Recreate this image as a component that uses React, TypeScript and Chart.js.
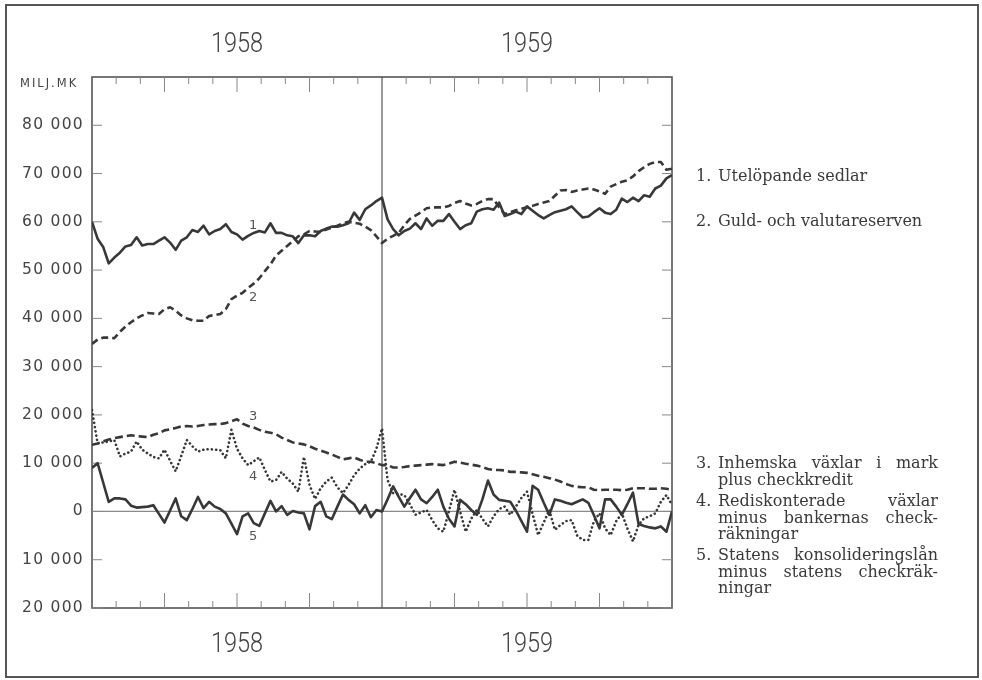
import React, { useEffect, useRef } from 'react';
import { Chart, registerables } from 'chart.js';

Chart.register(...registerables);

// ---- data (weekly, milj. mk) ----
const years = ['1958', '1959'];
const WEEKS_TOTAL = 104;
const WEEK_OF_YEAR_BREAK = 52;
const weekIndex = Array.from({ length: WEEKS_TOTAL + 1 }, (_, i) => i);

const sedlar1958 = [
  60000, 56500, 54800, 51400, 52600, 53600, 54900, 55200, 56800, 55100,
  55400, 55400, 56100, 56800, 55700, 54200, 56100, 56800, 58300, 57900,
  59200, 57400, 58100, 58500, 59500, 57900, 57400, 56300, 57100, 57700,
  58100, 57800, 59700, 57700, 57700, 57200, 57000, 55600, 57200, 57200,
  57000, 58100, 58600, 59000, 59000, 59300, 59700, 61900, 60400, 62600,
  63400, 64300, 65000,
];
const sedlar1959 = [
  60500, 58500, 57200, 58100, 58600, 59700, 58500, 60700, 59200, 60200,
  60200, 61600, 60000, 58500, 59300, 59700, 62100, 62600, 62800, 62500,
  64000, 61200, 61600, 62100, 61600, 63200, 62300, 61400, 60700, 61400,
  62000, 62300, 62600, 63200, 62000, 60900, 61100, 62000, 62800, 61900,
  61600, 62500, 64800, 64100, 65000, 64300, 65500, 65200, 66900, 67500,
  69000, 69700,
];
const guld1958 = [
  34700, 35600, 36000, 36000, 35900, 37200, 38300, 39200, 40000, 40600,
  41100, 41000, 40900, 41900, 42300, 41600, 40600, 40000, 39600, 39500,
  39500, 40500, 40700, 40900, 41900, 44000, 44700, 45300, 46300, 47200,
  48300, 49800, 51200, 53000, 54000, 55000, 56000, 57000, 57400, 58100,
  58000, 57900, 58400, 58800, 59200, 59700, 60000, 59800, 59600, 59000,
  58300, 57000, 55600,
];
const guld1959 = [
  56500, 57100, 57700, 59300, 60600, 61300, 62000, 62800, 63000, 63000,
  63000, 63300, 63900, 64300, 63800, 63400, 63700, 64300, 64700, 64700,
  63000, 61600, 62000, 62400, 62700, 63000, 63300, 63700, 64000, 64300,
  65400, 66500, 66600, 66200, 66500, 66700, 66900, 66700, 66300, 65800,
  67300, 67800, 68300, 68600, 69400, 70500, 71300, 72000, 72400, 72400,
  70800, 71000,
];
const inhemska1958 = [
  13800, 14100, 14500, 14900, 15200, 15400, 15600, 15800, 15600, 15500,
  15400, 15900, 16200, 16800, 17000, 17300, 17600, 17700, 17600, 17700,
  17900, 18000, 18100, 18100, 18300, 18700, 19100, 18200, 17700, 17400,
  16900, 16500, 16300, 16000, 15300, 14800, 14300, 14100, 13900, 13500,
  13000, 12600, 12200, 11800, 11300, 10800, 11000, 11200, 10700, 10300,
  10300, 10000, 9600,
];
const inhemska1959 = [
  9600, 9100, 9100, 9200, 9400, 9500, 9600, 9700, 9800, 9700,
  9600, 9900, 10300, 10100, 9900, 9700, 9500, 9200, 8800, 8600,
  8600, 8500, 8200, 8200, 8100, 8000, 7700, 7400, 7200, 6900,
  6600, 6200, 5700, 5300, 5100, 5000, 5000, 4500, 4400, 4500,
  4500, 4500, 4400, 4500, 4800, 4800, 4800, 4700, 4700, 4800,
  4700, 4500,
];
const redisk1958 = [
  21000, 14100, 14300, 14500, 14800, 11400, 12000, 12400, 14500, 12800,
  12000, 11300, 11000, 12800, 10500, 8300, 11500, 14800, 13500, 12400,
  12800, 12900, 12800, 12700, 11000, 16900, 13000, 11000, 9600, 10400,
  11200, 8600, 6200, 6500, 8200, 6800, 5800, 4100, 11300, 5500,
  2600, 4800, 6200, 7000, 5000, 3800, 5500, 7500, 8900, 9800,
  10300, 13000, 17200,
];
const redisk1959 = [
  6500, 3800, 3600, 3400, 1500, -700, -200, 300, -1800, -3500,
  -4200, 0, 4500, 0, -4200, -1500, 300, -1500, -3100, -1000,
  500, 1000, -700, 1000, 2800, 4100, -500, -4900, -2300, 300,
  -3800, -2800, -2000, -1800, -5000, -5900, -5900, -2000, -400, -3500,
  -4900, -2000, -400, -3500, -6200, -2800, -1400, -1000, -400, 2000,
  3400, 1300,
];
const statens1958 = [
  9000, 10000, 6000, 2000, 2700, 2700, 2500, 1200, 800, 900,
  1000, 1300, -500, -2300, 200, 2700, -1000, -1800, 500, 3000,
  700, 2000, 1000, 500, -400, -2500, -4700, -1000, -400, -2400,
  -3000, -400, 2200, 0, 1100, -700, 100, -200, -400, -3700,
  1100, 2000, -1000, -1600, 1000, 3500, 2400, 1500, -400, 1300,
  -1200, 300, 0,
];
const statens1959 = [
  2500, 5200, 3000, 1000, 2800, 4500, 2500, 1700, 3000, 4500,
  1000, -1500, -3100, 2400, 1500, 300, -700, 2500, 6400, 3500,
  2400, 2200, 2000, 200, -2000, -4200, 5300, 4500, 1800, -700,
  2500, 2200, 1800, 1500, 2000, 2500, 1800, -800, -3500, 2500,
  2500, 1000, -700, 1500, 3900, -2600, -3000, -3300, -3500, -3100,
  -4200, 0,
];

const yMin = -20000;
const yMax = 90000;
const yStep = 10000;
const yTickValues = [-20000, -10000, 0, 10000, 20000, 30000, 40000, 50000, 60000, 70000, 80000];
const monthTicks = [1, 2, 3, 4, 5, 6, 7, 8, 9, 10, 11, 13, 14, 15, 16, 17, 18, 19, 20, 21, 22, 23];
const MONTHS_TOTAL = 24;

const tagTexts = ['1', '2', '3', '4', '5'];
const tagWeeks = [29, 29, 29, 29, 29];
const tagValues = [59300, 44200, 19700, 7200, -5200];

const legendTop = [
  { num: '1.', lines: [['Utelöpande sedlar']] },
  { num: '2.', lines: [['Guld- och valutareserven']] },
];
const legendBottom = [
  { num: '3.', lines: [['Inhemska', 'växlar', 'i', 'mark'], ['plus checkkredit']] },
  { num: '4.', lines: [['Rediskonterade', 'växlar'], ['minus', 'bankernas', 'check-'], ['räkningar']] },
  { num: '5.', lines: [['Statens', 'konsolideringslån'], ['minus', 'statens', 'checkräk-'], ['ningar']] },
];

const INK = '#383838';

const decor = {
  id: 'decor',
  beforeDraw(chart: any) {
    try {
      chart.ctx.letterSpacing = '1.3px';
    } catch (e) {
      /* ignore */
    }
  },
  beforeDatasetsDraw(chart: any) {
    const { ctx, chartArea: a, scales } = chart;
    const x = scales.x;
    const y = scales.y;
    ctx.save();
    ctx.strokeStyle = '#8a8a8a';
    ctx.lineWidth = 1.2;
    const y0 = y.getPixelForValue(0);
    ctx.beginPath();
    ctx.moveTo(a.left, y0);
    ctx.lineTo(a.right, y0);
    ctx.stroke();
    ctx.strokeStyle = '#555';
    ctx.lineWidth = 1.2;
    const xd = x.getPixelForValue(WEEK_OF_YEAR_BREAK);
    ctx.beginPath();
    ctx.moveTo(xd, a.top);
    ctx.lineTo(xd, a.bottom);
    ctx.stroke();
    ctx.strokeStyle = '#555';
    ctx.lineWidth = 1.6;
    ctx.strokeRect(a.left, a.top, a.right - a.left, a.bottom - a.top);
    ctx.strokeStyle = '#888';
    ctx.lineWidth = 1;
    monthTicks.forEach((m) => {
      const px = x.getPixelForValue((m * WEEKS_TOTAL) / MONTHS_TOTAL);
      const len = m % 3 === 0 ? 15 : 7;
      ctx.beginPath();
      ctx.moveTo(px, a.top);
      ctx.lineTo(px, a.top + len);
      ctx.moveTo(px, a.bottom);
      ctx.lineTo(px, a.bottom - len);
      ctx.stroke();
    });
    yTickValues.forEach((v) => {
      const py = y.getPixelForValue(v);
      ctx.beginPath();
      ctx.moveTo(a.left, py);
      ctx.lineTo(a.left + 10, py);
      ctx.moveTo(a.right - 10, py);
      ctx.lineTo(a.right, py);
      ctx.stroke();
    });
    ctx.restore();
  },
  afterDatasetsDraw(chart: any) {
    const { ctx, scales } = chart;
    ctx.save();
    ctx.fillStyle = '#555';
    ctx.font = '13px "DejaVu Sans"';
    ctx.textAlign = 'center';
    ctx.textBaseline = 'middle';
    tagTexts.forEach((t, i) => {
      ctx.fillText(t, scales.x.getPixelForValue(tagWeeks[i]), scales.y.getPixelForValue(tagValues[i]));
    });
    ctx.restore();
  },
};

function fmt(v: number) {
  const s = String(Math.abs(v));
  return s.length > 3 ? s.slice(0, s.length - 3) + ' ' + s.slice(-3) : s;
}

function YearLabel({ text, cx, cy }: { text: string; cx: number; cy: number }) {
  return (
    <div
      style={{
        position: 'absolute',
        left: cx - 50,
        top: cy - 17,
        width: 100,
        height: 34,
        lineHeight: '34px',
        textAlign: 'center',
        fontFamily: 'Roboto, "DejaVu Sans", sans-serif',
        fontWeight: 300,
        fontSize: 28,
        color: '#444',
        transform: 'scaleX(0.84)',
      }}
    >
      {text}
    </div>
  );
}

function LegendItem({ num, lines, top }: { num: string; lines: string[][]; top: number }) {
  return (
    <div style={{ position: 'absolute', left: 696, top, width: 242, fontFamily: '"DejaVu Serif", serif', fontSize: 16, lineHeight: '16.5px', color: '#3a3a3a' }}>
      <div style={{ position: 'absolute', left: 0, top: 0 }}>{num}</div>
      {lines.map((words, i) => (
        <div
          key={i}
          style={{
            marginLeft: 22,
            display: 'flex',
            justifyContent: words.length > 1 && i < lines.length - 1 ? 'space-between' : 'flex-start',
            whiteSpace: 'nowrap',
          }}
        >
          {words.length > 1 && i < lines.length - 1
            ? words.map((w, j) => <span key={j}>{w}</span>)
            : <span>{words.join(' ')}</span>}
        </div>
      ))}
    </div>
  );
}

export default function App() {
  const canvasRef = useRef<HTMLCanvasElement | null>(null);

  useEffect(() => {
    if (!canvasRef.current) return;
    const mk = (data: number[], dash: number[], cap: 'butt' | 'round') => ({
      data,
      borderColor: INK,
      borderWidth: 2.6,
      borderDash: dash,
      borderCapStyle: cap,
      borderJoinStyle: 'round' as const,
      pointRadius: 0,
      tension: 0,
      fill: false,
    });
    const chart = new Chart(canvasRef.current, {
      type: 'line',
      data: {
        labels: weekIndex,
        datasets: [
          { label: 'Utelöpande sedlar', ...mk([...sedlar1958, ...sedlar1959], [], 'butt') },
          { label: 'Guld- och valutareserven', ...mk([...guld1958, ...guld1959], [7, 4], 'butt') },
          { label: 'Inhemska växlar i mark plus checkkredit', ...mk([...inhemska1958, ...inhemska1959], [8, 4], 'butt') },
          { label: 'Rediskonterade växlar minus bankernas checkräkningar', ...mk([...redisk1958, ...redisk1959], [0.1, 4.2], 'round') },
          { label: 'Statens konsolideringslån minus statens checkräkningar', ...mk([...statens1958, ...statens1959], [], 'butt') },
        ],
      },
      options: {
        animation: false,
        responsive: false,
        maintainAspectRatio: false,
        layout: { padding: { left: 0, top: 77, right: 310, bottom: 72 } },
        plugins: { legend: { display: false }, tooltip: { enabled: false }, title: { display: false } },
        scales: {
          x: { type: 'linear', min: 0, max: WEEKS_TOTAL, display: false },
          y: {
            type: 'linear',
            min: yMin,
            max: yMax,
            grid: { display: false, drawTicks: false },
            border: { display: false },
            ticks: {
              stepSize: yStep,
              padding: 8,
              color: '#444',
              font: { family: '"DejaVu Sans", sans-serif', size: 15.5 },
              callback: (v: any) => (v === yMax ? '' : fmt(Number(v))),
            },
            afterFit: (s: any) => {
              s.width = 92;
            },
          },
        },
      },
      plugins: [decor],
    } as any);
    return () => chart.destroy();
  }, []);

  return (
    <div style={{ position: 'absolute', left: 0, top: 0, width: 982, height: 680, background: '#fff', overflow: 'hidden' }}>
      <div style={{ position: 'absolute', left: 5, top: 4, width: 970, height: 670, border: '2px solid #555' }} />
      <canvas ref={canvasRef} width={982} height={680} style={{ position: 'absolute', left: 0, top: 0, width: 982, height: 680 }} />
      <div style={{ position: 'absolute', left: 20, top: 76, fontFamily: '"DejaVu Sans", sans-serif', fontSize: 11.5, letterSpacing: 2, color: '#444', lineHeight: '14px' }}>
        MILJ.MK
      </div>
      <YearLabel text={years[0]} cx={237} cy={43} />
      <YearLabel text={years[1]} cx={527} cy={43} />
      <YearLabel text={years[0]} cx={237} cy={643} />
      <YearLabel text={years[1]} cx={527} cy={643} />
      <LegendItem num={legendTop[0].num} lines={legendTop[0].lines} top={168} />
      <LegendItem num={legendTop[1].num} lines={legendTop[1].lines} top={213} />
      <LegendItem num={legendBottom[0].num} lines={legendBottom[0].lines} top={455} />
      <LegendItem num={legendBottom[1].num} lines={legendBottom[1].lines} top={493} />
      <LegendItem num={legendBottom[2].num} lines={legendBottom[2].lines} top={547} />
    </div>
  );
}
